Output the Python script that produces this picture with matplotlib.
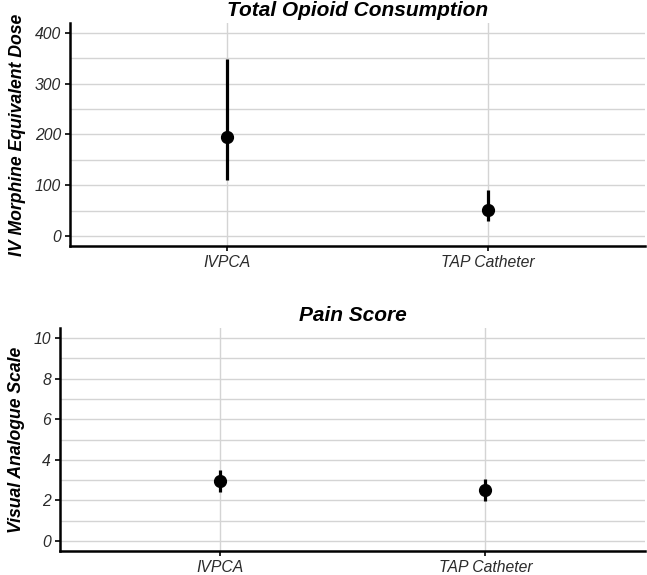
import matplotlib
matplotlib.use("Agg")
import matplotlib.pyplot as plt
import numpy as np

plt.rcParams['font.family'] = ['Liberation Sans', 'DejaVu Sans']

groups = ["IVPCA", "TAP Catheter"]

opioid_mean = [196, 51]
opioid_low = [111, 30]
opioid_high = [348, 90]

pain_mean = [2.94, 2.50]
pain_low = [2.41, 1.96]
pain_high = [3.48, 3.04]

fig = plt.figure(figsize=(6.47, 5.75), dpi=100)

def panel(rect, mean, low, high, title, ylabel, ylim, major, minor):
    ax = fig.add_axes(rect)
    x = np.arange(1, len(groups) + 1)
    ax.set_xlim(0.4, len(groups) + 0.6)
    ax.set_ylim(*ylim)
    ax.set_yticks(major)
    ax.set_yticks(minor, minor=True)
    ax.set_xticks(x)
    ax.set_xticklabels(groups, fontstyle='italic', fontsize=11.3, color='#2b2b2b')
    ax.set_yticklabels([str(v) for v in major], fontstyle='italic', fontsize=11.3, color='#2b2b2b')
    ax.grid(True, which='major', color='#d4d4d4', lw=1.0)
    ax.grid(True, which='minor', axis='y', color='#d4d4d4', lw=1.0)
    ax.set_axisbelow(True)
    for s in ['top', 'right']:
        ax.spines[s].set_visible(False)
    for s in ['left', 'bottom']:
        ax.spines[s].set_linewidth(1.8)
        ax.spines[s].set_color('black')
    ax.tick_params(which='major', length=3.5, width=1.2, color='black', pad=3)
    ax.tick_params(which='minor', length=0)
    m = np.array(mean); lo = np.array(low); hi = np.array(high)
    ax.vlines(x, lo, hi, color='black', lw=2.3, zorder=3)
    ax.plot(x, m, 'o', color='black', ms=8.5, zorder=4)
    ax.set_title(title, fontsize=15, fontweight='bold', fontstyle='italic', pad=5)
    ax.set_ylabel(ylabel, fontsize=12.7, fontweight='bold', fontstyle='italic', labelpad=6)
    return ax

ax1 = panel([0.1082, 0.5722, 0.8887, 0.3878], opioid_mean, opioid_low, opioid_high,
            "Total Opioid Consumption", "IV Morphine Equivalent Dose",
            (-20, 420), [0, 100, 200, 300, 400], [50, 150, 250, 350])
ax2 = panel([0.0927, 0.0417, 0.9042, 0.3879], pain_mean, pain_low, pain_high,
            "Pain Score", "Visual Analogue Scale",
            (-0.5, 10.5), [0, 2, 4, 6, 8, 10], [1, 3, 5, 7, 9])

fig.savefig("out.png", dpi=100)
